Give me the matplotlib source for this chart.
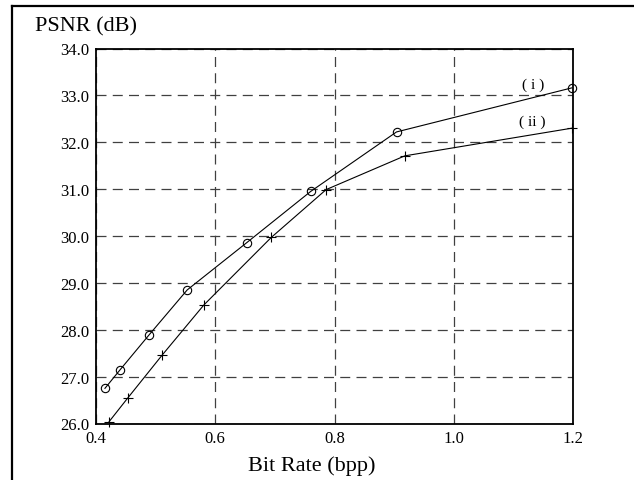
import matplotlib
matplotlib.use("Agg")
import matplotlib.pyplot as plt
from matplotlib.lines import Line2D

# curve (i): circles
rate_i = [0.415, 0.440, 0.489, 0.553, 0.653, 0.760, 0.904, 1.198]
psnr_i = [26.75, 27.14, 27.89, 28.85, 29.86, 30.95, 32.22, 33.16]
# curve (ii): crosses
rate_ii = [0.422, 0.453, 0.511, 0.581, 0.694, 0.786, 0.918, 1.198]
psnr_ii = [26.04, 26.54, 27.46, 28.53, 29.97, 30.99, 31.71, 32.30]

xticks = [0.4, 0.6, 0.8, 1.0, 1.2]
xlabels = ["0.4", "0.6", "0.8", "1.0", "1.2"]
yticks = [26, 27, 28, 29, 30, 31, 32, 33, 34]
ylabels = ["26.0", "27.0", "28.0", "29.0", "30.0", "31.0", "32.0", "33.0", "34.0"]

W, H = 634, 481
plt.rcParams["font.family"] = ["Liberation Serif", "DejaVu Serif"]

fig = plt.figure(figsize=(W / 100, H / 100), dpi=100)
# axes box in pixels: left 96, right 573, top 49.5, bottom 424.5
ax = fig.add_axes([96 / W, 1 - 424.5 / H, (573 - 96) / W, (424.5 - 49.5) / H])

ax.plot(rate_i, psnr_i, color="black", lw=0.8, marker="o", ms=6,
        mfc="none", mec="black", mew=0.8, clip_on=False, zorder=3)
ax.plot(rate_ii, psnr_ii, color="black", lw=0.8, marker="+", ms=7,
        mew=0.8, clip_on=False, zorder=3)

ax.set_xlim(0.4, 1.2)
ax.set_ylim(26, 34)
ax.set_xticks(xticks)
ax.set_xticklabels(xlabels)
ax.set_yticks(yticks)
ax.set_yticklabels(ylabels)
ax.tick_params(length=0, labelsize=12, pad=5)
ax.grid(True, color="0.25", lw=0.9, ls=(0, (8, 5)))
for s in ax.spines.values():
    s.set_linewidth(1.3)

ax.text(1.133, 33.24, "( i )", fontsize=11, ha="center", va="center")
ax.text(1.131, 32.44, "( ii )", fontsize=11, ha="center", va="center")

fig.text(35 / W, 1 - 27 / H, "PSNR (dB)", fontsize=16, ha="left", va="center")
fig.text(312 / W, 1 - 466 / H, "Bit Rate (bpp)", fontsize=16, ha="center", va="center")

# outer frame (left and top edges)
fig.add_artist(Line2D([12 / W, 12 / W], [0, 1 - 7 / H], color="black", lw=1.6,
                      transform=fig.transFigure))
fig.add_artist(Line2D([12 / W, 1], [1 - 7 / H, 1 - 7 / H], color="black", lw=1.6,
                      transform=fig.transFigure))

fig.savefig("out.png", dpi=100)
